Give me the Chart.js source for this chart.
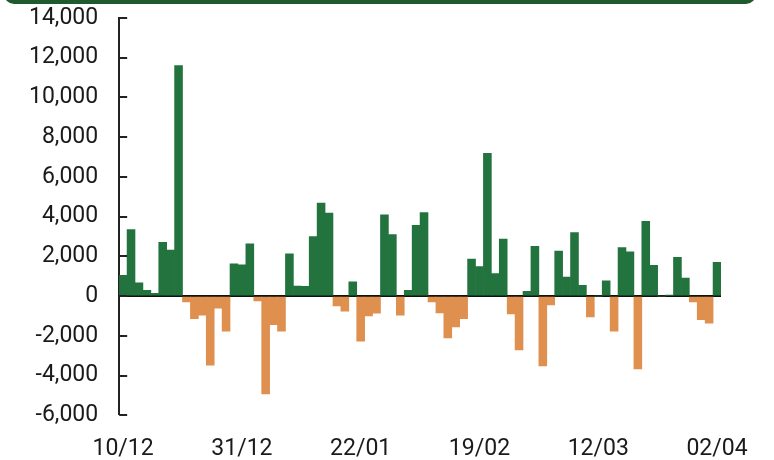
<!DOCTYPE html>
<html>
<head>
<meta charset="utf-8">
<script src="https://cdn.jsdelivr.net/npm/chart.js@4"></script>
<style>
    html, body { margin: 0; padding: 0; background: #fff; }
    .wrap { position: relative; width: 774px; height: 460px; overflow: hidden; }
    .header { position: absolute; left: 4px; top: -20px; width: 752px; height: 24px; background: #1f5a2e; border-radius: 10px; z-index: 2; }
    canvas { position: absolute; left: 0; top: -17px; }
</style>
</head>
<body>
<div class="wrap">
    <div class="header"></div>
    <canvas id="chart" width="774" height="502"></canvas>
</div>
<script>
// Valores diarios (lectura aproximada del gráfico)
const values = [
    1050, 3350, 670, 290, 140, 2700, 2320, 11600, -290, -1140,
    -960, -3470, -600, -1760, 1620, 1580, 2630, -240, -4920, -1440,
    -1760, 2130, 500, 490, 2990, 4680, 4180, -490, -760, 720,
    -2270, -1000, -860, 4090, 3100, -960, 290, 3560, 4200, -290,
    -850, -2100, -1550, -1140, 1860, 1490, 7180, 1140, 2870, -890,
    -2700, 240, 2500, -3510, -440, 2270, 960, 3200, 540, -1040,
    0, 770, -1760, 2440, 2230, -3660, 3760, 1550, 0, 40,
    1950, 910, -290, -1190, -1360, 1700
];

// Etiquetas del eje X, una cada 15 barras
const tickLabels = ['10/12', '31/12', '22/01', '19/02', '12/03', '02/04'];
const tickStep = 15;
const categories = values.map((v, i) => i % tickStep === 0 ? tickLabels[i / tickStep] : '');

// Eje Y
const yMin = -6000;
const yMax = 14000;
const yStep = 2000;

const GREEN = '#23733f';
const ORANGE = '#df8f4e';
const TEXT = '#1a1a1a';

// Marcas del eje Y hacia dentro
const innerTicks = {
    id: 'innerTicks',
    afterDraw(chart) {
        const y = chart.scales.y;
        const ctx = chart.ctx;
        ctx.save();
        ctx.strokeStyle = '#222';
        ctx.lineWidth = 2;
        y.ticks.forEach(t => {
            const py = Math.round(y.getPixelForValue(t.value));
            ctx.beginPath();
            ctx.moveTo(y.right, py);
            ctx.lineTo(y.right + 8, py);
            ctx.stroke();
        });
        ctx.restore();
    }
};

new Chart(document.getElementById('chart').getContext('2d'), {
    type: 'bar',
    data: {
        labels: categories,
        datasets: [{
            data: values,
            backgroundColor: ctx => ctx.raw >= 0 ? GREEN : ORANGE,
            borderWidth: 0,
            barPercentage: 1,
            categoryPercentage: 1
        }]
    },
    options: {
        responsive: false,
        animation: false,
        layout: { padding: { left: 8, right: 53, top: 5, bottom: 10 } },
        plugins: {
            legend: { display: false },
            tooltip: { enabled: false }
        },
        scales: {
            x: {
                grid: { display: false },
                border: { display: false },
                ticks: {
                    autoSkip: false,
                    maxRotation: 0,
                    padding: 12,
                    color: TEXT,
                    font: { family: 'Roboto', size: 23 }
                }
            },
            y: {
                min: yMin,
                max: yMax,
                ticks: {
                    stepSize: yStep,
                    padding: 21,
                    color: TEXT,
                    font: { family: 'Roboto', size: 23 }
                },
                grid: {
                    drawTicks: false,
                    color: ctx => ctx.tick && ctx.tick.value === 0 ? '#111' : 'rgba(0,0,0,0)',
                    lineWidth: ctx => ctx.tick && ctx.tick.value === 0 ? 2 : 0
                },
                border: { display: true, color: '#222', width: 2 }
            }
        }
    },
    plugins: [innerTicks]
});
</script>
</body>
</html>
